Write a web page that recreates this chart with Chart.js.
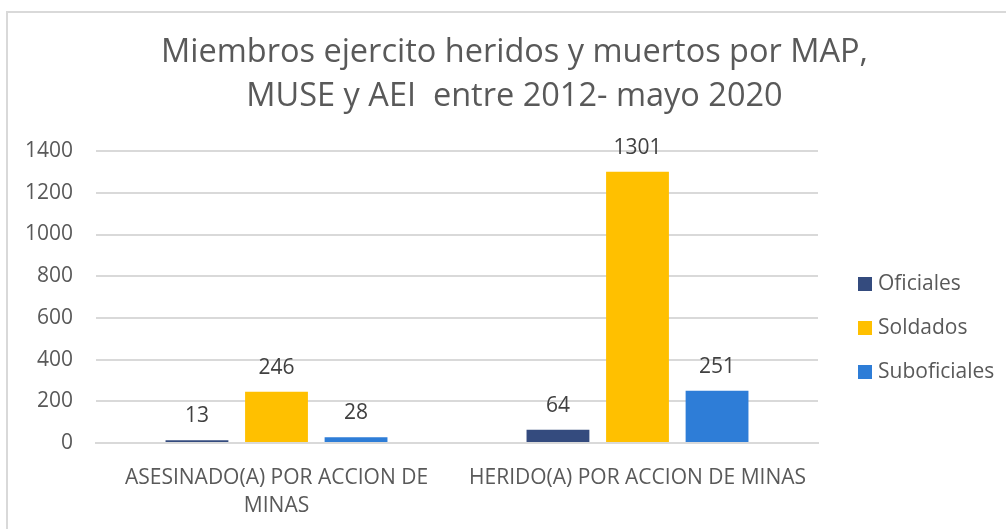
<!DOCTYPE html>
<html>
<head>
<meta charset="utf-8">
<script src="https://cdn.jsdelivr.net/npm/chart.js@4.4.1/dist/chart.umd.min.js"></script>
<style>
  html, body { margin: 0; padding: 0; background: #fff; }
  #wrap { position: relative; width: 1006px; height: 529px; overflow: hidden; }
  #frame { position: absolute; left: 6px; top: 11px; width: 1010px; height: 530px; border: 2px solid #d9d9d9; box-sizing: border-box; }
  #cav { position: absolute; left: 0; top: 0; }
</style>
</head>
<body>
<div id="wrap">
  <div id="frame"></div>
  <canvas id="cav" width="1006" height="529"></canvas>
</div>
<script>
// Datos
var categories = [['ASESINADO(A) POR ACCION DE', 'MINAS'], 'HERIDO(A) POR ACCION DE MINAS'];
var seriesNames = ['Oficiales', 'Soldados', 'Suboficiales'];
var oficiales = [13, 64];
var soldados = [246, 1301];
var suboficiales = [28, 251];
var yTicks = [0, 200, 400, 600, 800, 1000, 1200, 1400];

var colours = ['#344b7e', '#ffc000', '#2e7dd7'];
var font = "'Open Sans', 'Liberation Sans', sans-serif";

// etiquetas encima de cada barra
var barLabels = {
    id: 'barLabels',
    afterDatasetsDraw: function(chart) {
        var ctx = chart.ctx;
        ctx.save();
        ctx.font = '21px ' + font;
        ctx.fillStyle = '#404040';
        ctx.textAlign = 'center';
        ctx.textBaseline = 'alphabetic';
        chart.data.datasets.forEach(function(ds, i) {
            chart.getDatasetMeta(i).data.forEach(function(bar, j) {
                ctx.fillText(ds.data[j], bar.x, bar.y - 18);
            });
        });
        ctx.restore();
    }
};

// leyenda a la derecha, como en Excel
var sideLegend = {
    id: 'sideLegend',
    afterDraw: function(chart) {
        var ctx = chart.ctx;
        var x = chart.chartArea.right + 40;
        var y0 = 284;
        ctx.save();
        ctx.font = '21px ' + font;
        ctx.textBaseline = 'middle';
        ctx.textAlign = 'left';
        chart.data.datasets.forEach(function(ds, i) {
            var y = y0 + i * 44;
            ctx.fillStyle = ds.backgroundColor;
            ctx.fillRect(x, y - 7, 14, 14);
            ctx.fillStyle = '#595959';
            ctx.fillText(ds.label, x + 20, y);
        });
        ctx.restore();
    }
};

var chart = new Chart(document.getElementById('cav'), {
    type: 'bar',
    data: {
        labels: categories,
        datasets: [
            { label: seriesNames[0], data: oficiales, backgroundColor: colours[0] },
            { label: seriesNames[1], data: soldados, backgroundColor: colours[1] },
            { label: seriesNames[2], data: suboficiales, backgroundColor: colours[2] }
        ]
    },
    options: {
        responsive: false,
        animation: false,
        layout: { padding: { left: 23, right: 0, top: 8, bottom: 0 } },
        categoryPercentage: 0.661,
        barPercentage: 0.79,
        plugins: {
            title: {
                display: true,
                text: ['Miembros ejercito heridos y muertos por MAP,', 'MUSE y AEI  entre 2012- mayo 2020'],
                color: '#595959',
                font: { family: font, size: 32.5, weight: 'normal', lineHeight: 1.34 },
                padding: { top: 23, bottom: 33 }
            },
            legend: { display: false },
            tooltip: { enabled: false }
        },
        scales: {
            x: {
                grid: { display: false },
                border: { color: '#d9d9d9', width: 2 },
                ticks: { color: '#595959', font: { family: font, size: 21, lineHeight: 1.33 }, maxRotation: 0, autoSkip: false, padding: 13 },
                afterFit: function(scale) {
                    scale.height = 86;
                    // sitio para la leyenda
                    scale.paddingRight = 188;
                }
            },
            y: {
                min: 0,
                max: 1400,
                afterBuildTicks: function(scale) {
                    scale.ticks = yTicks.map(function(v) { return { value: v }; });
                },
                afterFit: function(scale) {
                    scale.width = 73;
                },
                grid: { color: '#d9d9d9', lineWidth: 2, drawTicks: false },
                border: { display: false },
                ticks: {
                    color: '#595959',
                    font: { family: font, size: 21 },
                    padding: 23,
                    callback: function(v) { return '' + v; }
                }
            }
        }
    },
    plugins: [barLabels, sideLegend]
});
</script>
</body>
</html>
